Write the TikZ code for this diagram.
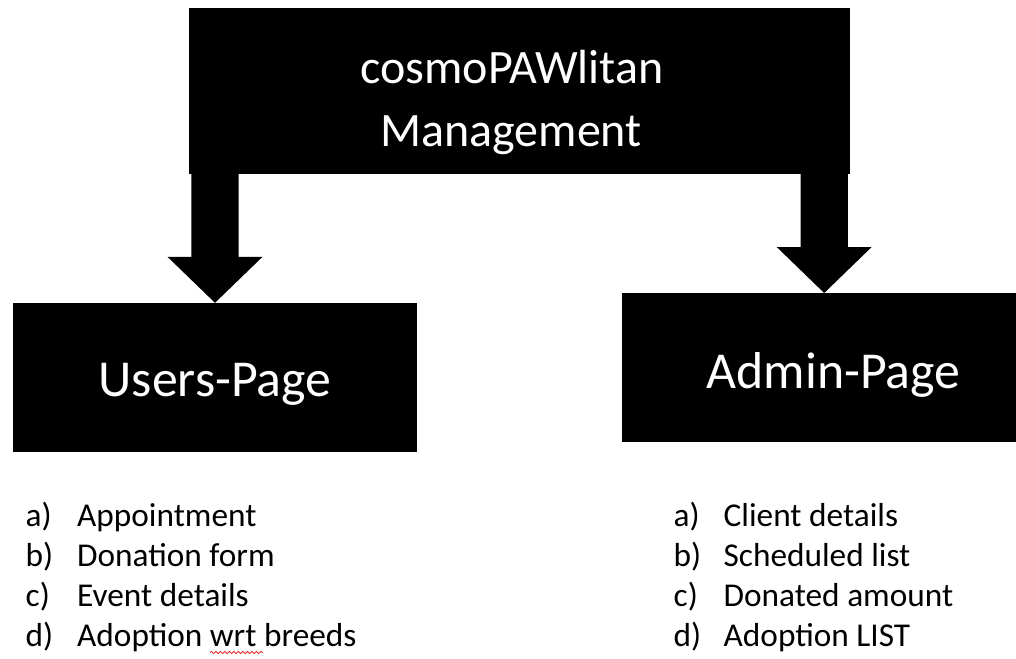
\documentclass[tikz,border=0pt]{standalone}
\usepackage{fontspec}
\setmainfont{Carlito}
\usetikzlibrary{decorations.pathmorphing}
\definecolor{spellred}{RGB}{228,48,48}
\tikzset{
  blackbox/.style={fill=black, text=white, inner sep=0pt},
  pagetext/.style={font=\fontsize{51.8}{62}\selectfont},
  titletext/.style={anchor=base, text=white, inner sep=0pt, font=\fontsize{48}{58}\selectfont},
  listitem/.style={anchor=base west, inner sep=0pt, font=\fontsize{33.3}{40}\selectfont},
}
\begin{document}
\begin{tikzpicture}[x=1pt,y=-1pt]
    \clip (0,0) rectangle (1016,658);
    \fill[white] (0,0) rectangle (1016,658);
    % the three boxes
    \node[blackbox, minimum width=661pt, minimum height=166pt] (top) at (519.5,91) {};
    \node[titletext] (title1) at (512,83.3) {cosmoPAWlitan};
    \node[titletext] (title2) at (511,146.7) {Management};
    \node[blackbox, pagetext, minimum width=404pt, minimum height=149pt,
          text height=38.4pt, text depth=0pt] (users) at (215,377.5) {Users-Page};
    \node[blackbox, pagetext, minimum width=423pt, minimum height=149pt,
          text height=41.2pt, text depth=0pt] (admin) at (833.5,367.7) {Admin-Page};
    % block arrows from the top box
    \coordinate (utip) at (users.north);
    \coordinate (atip) at ([xshift=202.4pt]admin.north west);
    \foreach \tip in {utip,atip} {
        \fill (\tip) -- ++(-47.5,-46) -- ++(23.8,0) coordinate (sl)
            -- (sl |- top.center) -- ++(47.4,0) coordinate (sr)
            -- (sr |- sl) -- ++(23.8,0) -- cycle;
    }
    % lists
    \foreach \lbl/\txt [count=\i] in {a/Appointment, b/Donation form, c/Event details, d/Adoption wrt breeds} {
        \node[listitem] (ulbl\i) at (25.5,486.5+40*\i) {\lbl)};
        \node[listitem] (uitem\i) at (77,486.5+40*\i) {\txt};
    }
    \foreach \lbl/\txt [count=\i] in {a/Client details, b/Scheduled list, c/Donated amount, d/Adoption LIST} {
        \node[listitem] (albl\i) at (673.5,486.5+40*\i) {\lbl)};
        \node[listitem] (aitem\i) at (723.5,486.5+40*\i) {\txt};
    }
    \draw[spellred, line width=0.8pt, decorate, decoration={snake, amplitude=1.2pt, segment length=4.5pt}]
        (210,652.5) -- (263,652.5);
\end{tikzpicture}
\end{document}
